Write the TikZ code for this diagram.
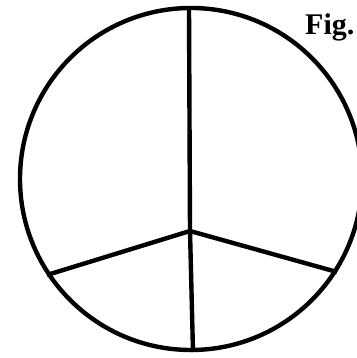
\documentclass[tikz,border=0pt]{standalone}
\usepackage{fontspec}
\setmainfont{Liberation Serif}
\begin{document}
\begin{tikzpicture}[x=1pt,y=1pt,
  ink/.style={line width=4.4pt,black},
  figlabel/.style={font=\fontsize{30}{34}\selectfont\bfseries,anchor=base west,inner sep=0pt}]
\useasboundingbox (0,0) rectangle (356,358);
\fill[white] (0,0) rectangle (356,358);
\coordinate (c) at (191,179);
\draw[ink] (c) circle[radius=171];
\coordinate (top) at (189,350);
\coordinate (j) at (190,127);
\coordinate (bot) at (193,6);
\coordinate (l) at (47,83);
\coordinate (r) at (337,86);
\draw[ink] (top) -- (j) -- (bot);
\draw[ink] (l) -- (j) -- (r);
\node[figlabel] (fig) at (305,323) {Fig.};
\end{tikzpicture}
\end{document}
